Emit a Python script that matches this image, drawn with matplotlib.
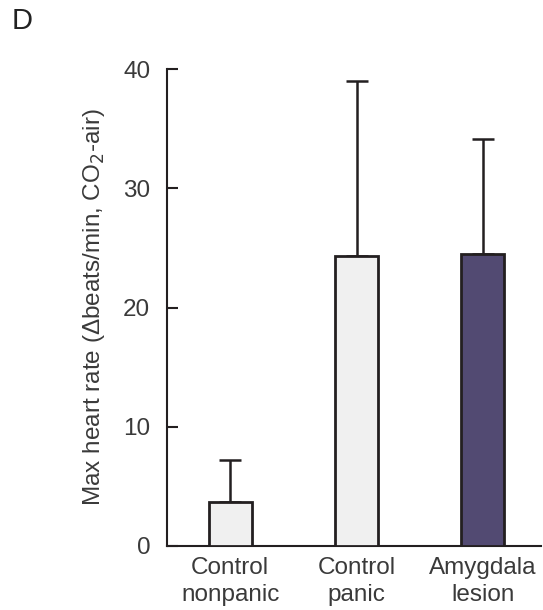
import matplotlib
matplotlib.use("Agg")
import matplotlib.pyplot as plt

categories = ["Control\nnonpanic", "Control\npanic", "Amygdala\nlesion"]
means = [3.7, 24.3, 24.5]
errors = [3.5, 14.7, 9.6]
colors = ["#f0f0f0", "#f0f0f0", "#524a72"]
yticks = [0, 10, 20, 30, 40]

plt.rcParams['font.family'] = ['Liberation Sans', 'DejaVu Sans']
text_color = "#3a3a3a"
edge = "#231f20"

W, H = 543, 610
fig = plt.figure(figsize=(W / 100, H / 100), dpi=100)
ax = fig.add_axes([167 / W, 1 - 546 / H, (541 - 167) / W, (546 - 69) / H])

x = list(range(len(categories)))
ax.bar(x, means, width=0.34, color=colors, edgecolor=edge, linewidth=2, zorder=3)
ax.errorbar(x, means, yerr=[[0] * len(errors), errors], fmt='none', ecolor=edge,
            elinewidth=1.8, capsize=8, capthick=1.8, zorder=2)

ax.set_xlim(-0.5, 2.46)
ax.set_ylim(0, 40)
ax.set_yticks(yticks)
ax.set_yticklabels([str(t) for t in yticks])
ax.set_xticks(x)
ax.set_xticklabels(categories, fontsize=17.5, color=text_color, linespacing=1.3)
ax.tick_params(axis='y', direction='in', length=8, width=1.5, color=edge,
               labelsize=17.5, labelcolor=text_color, pad=12)
ax.tick_params(axis='x', length=0, pad=8)
for s in ['top', 'right']:
    ax.spines[s].set_visible(False)
for s in ['left', 'bottom']:
    ax.spines[s].set_linewidth(1.5)
    ax.spines[s].set_color(edge)

ax.set_ylabel("Max heart rate (\u0394beats/min, CO$_2$-air)", fontsize=17.5,
              color=text_color, labelpad=12)

fig.text(12 / W, 1 - 29 / H, "D", fontsize=21, color="#222222")

fig.savefig("out.png", dpi=100)
